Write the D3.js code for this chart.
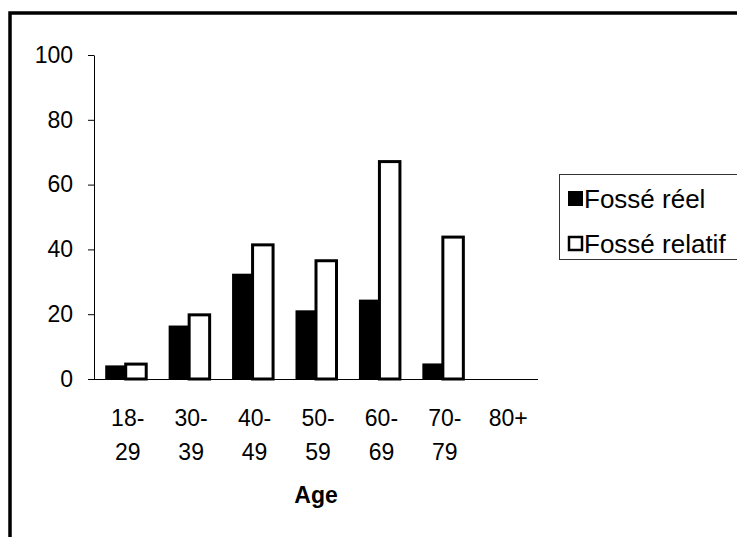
<!DOCTYPE html>
<html>
<head>
<meta charset="utf-8">
<script src="https://cdn.jsdelivr.net/npm/d3@7"></script>
<style>
  body { margin: 0; background: #fff; }
  text { font-family: "Liberation Sans", Arial, sans-serif; }
</style>
</head>
<body>
<div id="chart-area"></div>
<script>
// Data
var categories = ["18-29", "30-39", "40-49", "50-59", "60-69", "70-79", "80+"];
var seriesNames = ["Fossé réel", "Fossé relatif"];
var fosseReel = [4.2, 16.5, 32.5, 21.2, 24.5, 4.8, null];
var fosseRelatif = [4.6, 19.8, 41.4, 36.5, 67.1, 43.8, null];
var yTicks = [0, 20, 40, 60, 80, 100];

var W = 737, H = 537;
var margin = { left: 94, right: 199, top: 55, bottom: 158 };
var width = W - margin.left - margin.right,
    height = H - margin.top - margin.bottom;
var fontSize = "23px";

var svg = d3.select("#chart-area")
  .append("svg")
    .attr("width", W)
    .attr("height", H);

// outer frame (runs off right and bottom)
svg.append("rect")
  .attr("x", 10)
  .attr("y", 13)
  .attr("width", W + 20)
  .attr("height", H + 20)
  .attr("fill", "none")
  .attr("stroke", "#000")
  .attr("stroke-width", 3.5);

var g = svg.append("g")
  .attr("transform", "translate(" + margin.left + ", " + margin.top + ")");

var x = d3.scaleBand()
  .domain(categories)
  .range([0, width])
  .padding(0);

var groupW = 41;
var xSub = d3.scaleBand()
  .domain(seriesNames)
  .range([(x.bandwidth() - groupW) / 2, (x.bandwidth() + groupW) / 2]);

var y = d3.scaleLinear()
  .domain([0, 100])
  .range([height, 0]);

// Y axis
var yAxisCall = d3.axisLeft(y)
  .tickValues(yTicks)
  .tickSize(6)
  .tickPadding(15)
  .tickSizeOuter(0);
var yAxisGroup = g.append("g").call(yAxisCall);
yAxisGroup.select(".domain").attr("stroke", "#000");
yAxisGroup.selectAll(".tick line").attr("stroke", "#000");
yAxisGroup.selectAll("text")
  .attr("font-size", fontSize)
  .attr("fill", "#000")
  .style("font-family", "'Liberation Sans', Arial, sans-serif");

// X axis line
g.append("line")
  .attr("x1", 0)
  .attr("x2", width)
  .attr("y1", height + 0.5)
  .attr("y2", height + 0.5)
  .attr("stroke", "#000");

// bars
var rows = categories.map(function(c, i) {
  return { cat: c, reel: fosseReel[i], relatif: fosseRelatif[i] };
});

g.selectAll(".bar-reel")
  .data(rows.filter(function(d) { return d.reel != null; }))
  .enter().append("rect")
    .attr("class", "bar-reel")
    .attr("x", function(d) { return x(d.cat) + xSub(seriesNames[0]); })
    .attr("width", xSub.bandwidth())
    .attr("y", function(d) { return y(d.reel); })
    .attr("height", function(d) { return height - y(d.reel); })
    .attr("fill", "#000");

g.selectAll(".bar-relatif")
  .data(rows.filter(function(d) { return d.relatif != null; }))
  .enter().append("rect")
    .attr("class", "bar-relatif")
    .attr("x", function(d) { return x(d.cat) + xSub(seriesNames[1]); })
    .attr("width", xSub.bandwidth())
    .attr("y", function(d) { return y(d.relatif); })
    .attr("height", function(d) { return height - y(d.relatif); })
    .attr("fill", "#fff")
    .attr("stroke", "#000")
    .attr("stroke-width", 3);

// category labels, two lines
var catLabels = g.selectAll(".cat-label")
  .data(categories)
  .enter().append("text")
    .attr("class", "cat-label")
    .attr("font-size", fontSize)
    .attr("text-anchor", "middle")
    .attr("transform", function(d) {
      return "translate(" + (x(d) + x.bandwidth() / 2 + 2) + ", " + (height + 47) + ")";
    });
catLabels.each(function(d) {
  var parts = d.indexOf("-") >= 0 ? [d.split("-")[0] + "-", d.split("-")[1]] : [d];
  d3.select(this).selectAll("tspan")
    .data(parts)
    .enter().append("tspan")
      .attr("x", 0)
      .attr("y", function(p, i) { return i * 34; })
      .text(function(p) { return p; });
});

// X Label
g.append("text")
  .attr("x", width / 2)
  .attr("y", height + 124)
  .attr("font-size", fontSize)
  .attr("font-weight", "bold")
  .attr("text-anchor", "middle")
  .text("Age");

// Legend
var legend = svg.append("g")
  .attr("transform", "translate(559.5, 174.5)");

legend.append("rect")
  .attr("width", 240)
  .attr("height", 85)
  .attr("fill", "#fff")
  .attr("stroke", "#333")
  .attr("stroke-width", 1);

var legendItem = legend.selectAll(".legend-item")
  .data(seriesNames)
  .enter().append("g")
    .attr("class", "legend-item")
    .attr("transform", function(d, i) { return "translate(8.5, " + (23.5 + i * 45) + ")"; });

legendItem.append("rect")
  .attr("x", function(d, i) { return i === 0 ? 0 : 1; })
  .attr("y", function(d, i) { return i === 0 ? -7 : -6; })
  .attr("width", function(d, i) { return i === 0 ? 15 : 13; })
  .attr("height", function(d, i) { return i === 0 ? 15 : 13; })
  .attr("fill", function(d, i) { return i === 0 ? "#000" : "#fff"; })
  .attr("stroke", "#000")
  .attr("stroke-width", function(d, i) { return i === 0 ? 0 : 2.5; });

legendItem.append("text")
  .attr("x", 16)
  .attr("y", 10)
  .attr("font-size", "26px")
  .text(function(d) { return d; });
</script>
</body>
</html>
